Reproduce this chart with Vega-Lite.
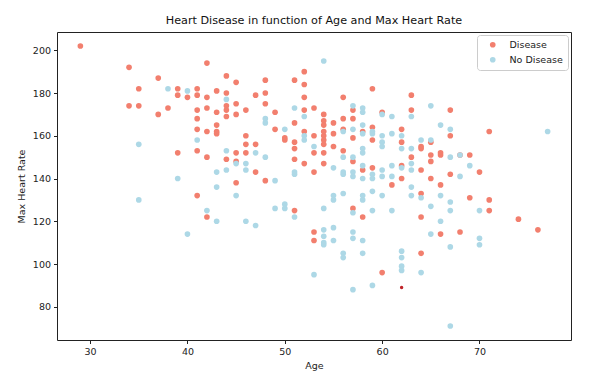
{
  "$schema": "https://vega.github.io/schema/vega-lite/v6.json",
  "width": 514,
  "height": 308,
  "autosize": {"type": "none"},
  "padding": {"left": 57, "top": 32, "right": 19, "bottom": 37},
  "background": "white",
  "config": {
    "font": "DejaVu Sans",
    "view": {"stroke": "#222", "strokeWidth": 1},
    "axis": {"grid": false, "domain": false, "tickColor": "#222", "tickSize": 3.5, "labelFont": "DejaVu Sans", "labelFontSize": 9.5, "labelColor": "#222", "titleFont": "DejaVu Sans", "titleFontSize": 9.5, "titleFontWeight": "normal", "titleColor": "#222"},
    "title": {"font": "DejaVu Sans", "fontSize": 11.2, "fontWeight": "normal", "color": "#111"}
  },
  "title": {"text": "Heart Disease in function of Age and Max Heart Rate", "anchor": "middle", "offset": 6},
  "data": {"values": [
    {"a":29,"h":202,"t":"Disease"},
    {"a":34,"h":192,"t":"Disease"},{"a":34,"h":174,"t":"Disease"},
    {"a":35,"h":182,"t":"Disease"},{"a":35,"h":174,"t":"Disease"},
    {"a":37,"h":187,"t":"Disease"},{"a":37,"h":170,"t":"Disease"},
    {"a":38,"h":173,"t":"Disease"},
    {"a":39,"h":182,"t":"Disease"},{"a":39,"h":179,"t":"Disease"},{"a":39,"h":152,"t":"Disease"},
    {"a":40,"h":178,"t":"Disease"},
    {"a":41,"h":182,"t":"Disease"},{"a":41,"h":179,"t":"Disease"},{"a":41,"h":172,"t":"Disease"},{"a":41,"h":168,"t":"Disease"},{"a":41,"h":163,"t":"Disease"},{"a":41,"h":153,"t":"Disease"},{"a":41,"h":132,"t":"Disease"},
    {"a":42,"h":194,"t":"Disease"},{"a":42,"h":178,"t":"Disease"},{"a":42,"h":173,"t":"Disease"},{"a":42,"h":162,"t":"Disease"},{"a":42,"h":150,"t":"Disease"},{"a":42,"h":122,"t":"Disease"},
    {"a":43,"h":181,"t":"Disease"},{"a":43,"h":171,"t":"Disease"},{"a":43,"h":165,"t":"Disease"},{"a":43,"h":162,"t":"Disease"},{"a":43,"h":161,"t":"Disease"},
    {"a":44,"h":188,"t":"Disease"},{"a":44,"h":180,"t":"Disease"},{"a":44,"h":174,"t":"Disease"},{"a":44,"h":172,"t":"Disease"},{"a":44,"h":169,"t":"Disease"},{"a":44,"h":149,"t":"Disease"},
    {"a":45,"h":185,"t":"Disease"},{"a":45,"h":175,"t":"Disease"},{"a":45,"h":170,"t":"Disease"},{"a":45,"h":152,"t":"Disease"},{"a":45,"h":148,"t":"Disease"},{"a":45,"h":138,"t":"Disease"},
    {"a":46,"h":172,"t":"Disease"},{"a":46,"h":160,"t":"Disease"},{"a":46,"h":156,"t":"Disease"},{"a":46,"h":152,"t":"Disease"},
    {"a":47,"h":179,"t":"Disease"},{"a":47,"h":156,"t":"Disease"},{"a":47,"h":143,"t":"Disease"},
    {"a":48,"h":186,"t":"Disease"},{"a":48,"h":180,"t":"Disease"},{"a":48,"h":175,"t":"Disease"},{"a":48,"h":139,"t":"Disease"},
    {"a":49,"h":171,"t":"Disease"},{"a":49,"h":163,"t":"Disease"},
    {"a":50,"h":159,"t":"Disease"},{"a":50,"h":158,"t":"Disease"},
    {"a":51,"h":186,"t":"Disease"},{"a":51,"h":166,"t":"Disease"},{"a":51,"h":157,"t":"Disease"},{"a":51,"h":154,"t":"Disease"},{"a":51,"h":149,"t":"Disease"},{"a":51,"h":125,"t":"Disease"},
    {"a":52,"h":190,"t":"Disease"},{"a":52,"h":184,"t":"Disease"},{"a":52,"h":178,"t":"Disease"},{"a":52,"h":172,"t":"Disease"},{"a":52,"h":162,"t":"Disease"},{"a":52,"h":147,"t":"Disease"},
    {"a":53,"h":173,"t":"Disease"},{"a":53,"h":160,"t":"Disease"},{"a":53,"h":152,"t":"Disease"},{"a":53,"h":143,"t":"Disease"},{"a":53,"h":115,"t":"Disease"},{"a":53,"h":111,"t":"Disease"},
    {"a":54,"h":170,"t":"Disease"},{"a":54,"h":167,"t":"Disease"},{"a":54,"h":165,"t":"Disease"},{"a":54,"h":162,"t":"Disease"},{"a":54,"h":160,"t":"Disease"},{"a":54,"h":158,"t":"Disease"},{"a":54,"h":156,"t":"Disease"},{"a":54,"h":152,"t":"Disease"},{"a":54,"h":147,"t":"Disease"},
    {"a":55,"h":166,"t":"Disease"},{"a":55,"h":161,"t":"Disease"},{"a":55,"h":155,"t":"Disease"},
    {"a":56,"h":178,"t":"Disease"},{"a":56,"h":168,"t":"Disease"},{"a":56,"h":163,"t":"Disease"},{"a":56,"h":153,"t":"Disease"},
    {"a":57,"h":172,"t":"Disease"},{"a":57,"h":168,"t":"Disease"},{"a":57,"h":159,"t":"Disease"},{"a":57,"h":148,"t":"Disease"},{"a":57,"h":126,"t":"Disease"},
    {"a":58,"h":162,"t":"Disease"},{"a":58,"h":144,"t":"Disease"},{"a":58,"h":122,"t":"Disease"},
    {"a":59,"h":182,"t":"Disease"},{"a":59,"h":164,"t":"Disease"},{"a":59,"h":158,"t":"Disease"},{"a":59,"h":145,"t":"Disease"},
    {"a":60,"h":171,"t":"Disease"},{"a":60,"h":96,"t":"Disease"},
    {"a":61,"h":137,"t":"Disease"},
    {"a":62,"h":163,"t":"Disease"},{"a":62,"h":157,"t":"Disease"},{"a":62,"h":146,"t":"Disease"},{"a":62,"h":140,"t":"Disease"},
    {"a":63,"h":179,"t":"Disease"},{"a":63,"h":172,"t":"Disease"},{"a":63,"h":150,"t":"Disease"},
    {"a":64,"h":155,"t":"Disease"},{"a":64,"h":154,"t":"Disease"},{"a":64,"h":144,"t":"Disease"},{"a":64,"h":133,"t":"Disease"},{"a":64,"h":122,"t":"Disease"},{"a":64,"h":105,"t":"Disease"},
    {"a":65,"h":157,"t":"Disease"},{"a":65,"h":151,"t":"Disease"},{"a":65,"h":148,"t":"Disease"},{"a":65,"h":140,"t":"Disease"},
    {"a":66,"h":152,"t":"Disease"},{"a":66,"h":151,"t":"Disease"},{"a":66,"h":137,"t":"Disease"},{"a":66,"h":114,"t":"Disease"},
    {"a":67,"h":172,"t":"Disease"},{"a":67,"h":160,"t":"Disease"},{"a":67,"h":142,"t":"Disease"},
    {"a":68,"h":151,"t":"Disease"},{"a":68,"h":115,"t":"Disease"},
    {"a":69,"h":151,"t":"Disease"},{"a":69,"h":131,"t":"Disease"},
    {"a":70,"h":143,"t":"Disease"},
    {"a":71,"h":162,"t":"Disease"},{"a":71,"h":130,"t":"Disease"},{"a":71,"h":125,"t":"Disease"},
    {"a":74,"h":121,"t":"Disease"},
    {"a":76,"h":116,"t":"Disease"},
    {"a":35,"h":156,"t":"No Disease"},{"a":35,"h":130,"t":"No Disease"},
    {"a":38,"h":182,"t":"No Disease"},
    {"a":39,"h":140,"t":"No Disease"},
    {"a":40,"h":181,"t":"No Disease"},{"a":40,"h":114,"t":"No Disease"},
    {"a":41,"h":158,"t":"No Disease"},
    {"a":42,"h":125,"t":"No Disease"},
    {"a":43,"h":143,"t":"No Disease"},{"a":43,"h":136,"t":"No Disease"},{"a":43,"h":120,"t":"No Disease"},
    {"a":44,"h":177,"t":"No Disease"},{"a":44,"h":153,"t":"No Disease"},{"a":44,"h":144,"t":"No Disease"},
    {"a":45,"h":147,"t":"No Disease"},{"a":45,"h":132,"t":"No Disease"},
    {"a":46,"h":147,"t":"No Disease"},{"a":46,"h":144,"t":"No Disease"},{"a":46,"h":120,"t":"No Disease"},
    {"a":47,"h":152,"t":"No Disease"},{"a":47,"h":118,"t":"No Disease"},
    {"a":48,"h":168,"t":"No Disease"},{"a":48,"h":166,"t":"No Disease"},{"a":48,"h":150,"t":"No Disease"},
    {"a":49,"h":139,"t":"No Disease"},{"a":49,"h":126,"t":"No Disease"},
    {"a":50,"h":163,"t":"No Disease"},{"a":50,"h":128,"t":"No Disease"},{"a":50,"h":126,"t":"No Disease"},
    {"a":51,"h":173,"t":"No Disease"},{"a":51,"h":143,"t":"No Disease"},{"a":51,"h":142,"t":"No Disease"},{"a":51,"h":122,"t":"No Disease"},
    {"a":52,"h":169,"t":"No Disease"},{"a":52,"h":160,"t":"No Disease"},{"a":52,"h":158,"t":"No Disease"},
    {"a":53,"h":155,"t":"No Disease"},{"a":53,"h":95,"t":"No Disease"},
    {"a":54,"h":195,"t":"No Disease"},{"a":54,"h":126,"t":"No Disease"},{"a":54,"h":116,"t":"No Disease"},{"a":54,"h":113,"t":"No Disease"},{"a":54,"h":110,"t":"No Disease"},{"a":54,"h":109,"t":"No Disease"},
    {"a":55,"h":145,"t":"No Disease"},{"a":55,"h":132,"t":"No Disease"},{"a":55,"h":130,"t":"No Disease"},{"a":55,"h":117,"t":"No Disease"},{"a":55,"h":111,"t":"No Disease"},
    {"a":56,"h":162,"t":"No Disease"},{"a":56,"h":150,"t":"No Disease"},{"a":56,"h":143,"t":"No Disease"},{"a":56,"h":142,"t":"No Disease"},{"a":56,"h":133,"t":"No Disease"},{"a":56,"h":105,"t":"No Disease"},{"a":56,"h":103,"t":"No Disease"},
    {"a":57,"h":174,"t":"No Disease"},{"a":57,"h":163,"t":"No Disease"},{"a":57,"h":150,"t":"No Disease"},{"a":57,"h":143,"t":"No Disease"},{"a":57,"h":141,"t":"No Disease"},{"a":57,"h":124,"t":"No Disease"},{"a":57,"h":115,"t":"No Disease"},{"a":57,"h":112,"t":"No Disease"},{"a":57,"h":88,"t":"No Disease"},
    {"a":58,"h":173,"t":"No Disease"},{"a":58,"h":171,"t":"No Disease"},{"a":58,"h":165,"t":"No Disease"},{"a":58,"h":161,"t":"No Disease"},{"a":58,"h":154,"t":"No Disease"},{"a":58,"h":152,"t":"No Disease"},{"a":58,"h":146,"t":"No Disease"},{"a":58,"h":140,"t":"No Disease"},{"a":58,"h":132,"t":"No Disease"},{"a":58,"h":130,"t":"No Disease"},{"a":58,"h":111,"t":"No Disease"},{"a":58,"h":105,"t":"No Disease"},
    {"a":59,"h":162,"t":"No Disease"},{"a":59,"h":161,"t":"No Disease"},{"a":59,"h":142,"t":"No Disease"},{"a":59,"h":140,"t":"No Disease"},{"a":59,"h":134,"t":"No Disease"},{"a":59,"h":125,"t":"No Disease"},{"a":59,"h":90,"t":"No Disease"},
    {"a":60,"h":170,"t":"No Disease"},{"a":60,"h":160,"t":"No Disease"},{"a":60,"h":157,"t":"No Disease"},{"a":60,"h":155,"t":"No Disease"},{"a":60,"h":144,"t":"No Disease"},{"a":60,"h":141,"t":"No Disease"},{"a":60,"h":132,"t":"No Disease"},
    {"a":61,"h":169,"t":"No Disease"},{"a":61,"h":161,"t":"No Disease"},{"a":61,"h":146,"t":"No Disease"},{"a":61,"h":141,"t":"No Disease"},{"a":61,"h":125,"t":"No Disease"},
    {"a":62,"h":160,"t":"No Disease"},{"a":62,"h":154,"t":"No Disease"},{"a":62,"h":145,"t":"No Disease"},{"a":62,"h":106,"t":"No Disease"},{"a":62,"h":103,"t":"No Disease"},{"a":62,"h":99,"t":"No Disease"},{"a":62,"h":97,"t":"No Disease"},
    {"a":63,"h":169,"t":"No Disease"},{"a":63,"h":154,"t":"No Disease"},{"a":63,"h":147,"t":"No Disease"},{"a":63,"h":144,"t":"No Disease"},{"a":63,"h":136,"t":"No Disease"},{"a":63,"h":132,"t":"No Disease"},
    {"a":64,"h":158,"t":"No Disease"},{"a":64,"h":131,"t":"No Disease"},{"a":64,"h":96,"t":"No Disease"},
    {"a":65,"h":174,"t":"No Disease"},{"a":65,"h":158,"t":"No Disease"},{"a":65,"h":127,"t":"No Disease"},{"a":65,"h":114,"t":"No Disease"},
    {"a":66,"h":165,"t":"No Disease"},{"a":66,"h":132,"t":"No Disease"},{"a":66,"h":120,"t":"No Disease"},
    {"a":67,"h":163,"t":"No Disease"},{"a":67,"h":150,"t":"No Disease"},{"a":67,"h":129,"t":"No Disease"},{"a":67,"h":125,"t":"No Disease"},{"a":67,"h":108,"t":"No Disease"},{"a":67,"h":71,"t":"No Disease"},
    {"a":68,"h":151,"t":"No Disease"},{"a":68,"h":141,"t":"No Disease"},
    {"a":69,"h":146,"t":"No Disease"},
    {"a":70,"h":125,"t":"No Disease"},{"a":70,"h":112,"t":"No Disease"},{"a":70,"h":109,"t":"No Disease"},
    {"a":77,"h":162,"t":"No Disease"},
    {"a":62,"h":89,"t":"Other"}
  ]},
  "layer": [
    {
      "transform": [{"filter": "datum.t !== 'Other'"}],
      "mark": {"type": "point", "shape": "circle", "filled": true, "opacity": 1, "size": 32},
      "encoding": {
        "x": {"field": "a", "type": "quantitative", "title": "Age",
              "scale": {"domain": [26.6, 79.4], "nice": false, "zero": false},
              "axis": {"values": [30, 40, 50, 60, 70], "labelPadding": 3, "titlePadding": 4}},
        "y": {"field": "h", "type": "quantitative", "title": "Max Heart Rate",
              "scale": {"domain": [64.45, 208.55], "nice": false, "zero": false},
              "axis": {"values": [80, 100, 120, 140, 160, 180, 200], "labelPadding": 3, "titlePadding": 6}},
        "color": {"field": "t", "type": "nominal", "title": null,
                  "scale": {"domain": ["Disease", "No Disease"], "range": ["#F27F6E", "#ADD8E6"]},
                  "legend": {"orient": "top-right", "offset": 3, "padding": 5, "strokeColor": "#cccccc", "fillColor": "white", "cornerRadius": 3,
                             "symbolType": "circle", "symbolSize": 32, "symbolOffset": 6, "labelOffset": 12, "labelFontSize": 9.5, "labelFont": "DejaVu Sans", "labelColor": "#222", "rowPadding": 4}}
      }
    },
    {
      "transform": [{"filter": "datum.t === 'Other'"}],
      "mark": {"type": "point", "shape": "circle", "filled": true, "opacity": 1, "size": 12, "color": "#C0252A"},
      "encoding": {
        "x": {"field": "a", "type": "quantitative"},
        "y": {"field": "h", "type": "quantitative"}
      }
    }
  ]
}
